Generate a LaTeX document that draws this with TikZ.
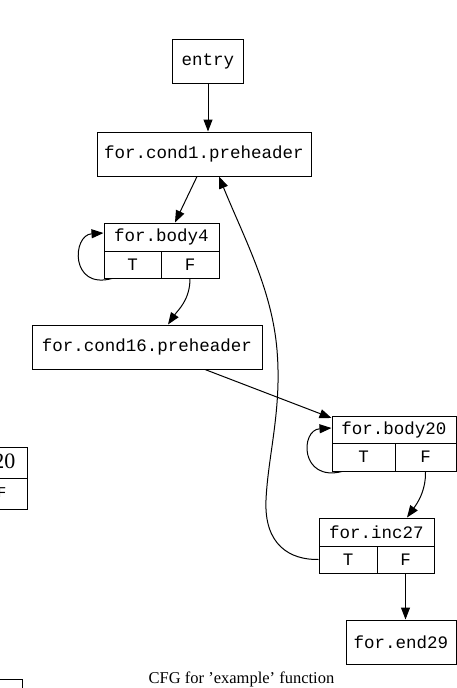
\documentclass[tikz,border=0pt]{standalone}
\usepackage{fontspec}
\usetikzlibrary{arrows.meta}
\newfontfamily\cfgmono{Liberation Mono}
\newfontfamily\cfgserif{Liberation Serif}
\tikzset{
  blk/.style={draw, line width=1pt, inner sep=0pt, rectangle,
              font=\cfgmono\fontsize{17.5}{20}\selectfont},
  edge/.style={line width=1pt, -{Triangle[length=12pt,width=9pt]}},
  frag/.style={draw, line width=1pt},
}
\begin{document}
\begin{tikzpicture}[x=1pt,y=-1pt]
\useasboundingbox (0,0) rectangle (457,688);
\clip (0,0) rectangle (457,688);
\fill[white] (0,0) rectangle (457,688);

% plain blocks
\node[blk, minimum width=71pt, minimum height=44pt] (entry) at (208,61) {entry};
\node[blk, minimum width=214pt, minimum height=44pt] (cond1) at (204,154) {for.cond1.preheader};
\node[blk, minimum width=230pt, minimum height=44pt] (cond16) at (147,347) {for.cond16.preheader};
\node[blk, minimum width=110pt, minimum height=44pt] (end29) at (401,642) {for.end29};

% record blocks: header plus T / F ports
\node[blk, minimum width=115pt, minimum height=28pt] (b4) at (161.5,237) {for.body4};
\node[blk, minimum width=57pt, minimum height=27pt] (b4T) at (132.5,264.5) {T};
\node[blk, minimum width=58pt, minimum height=27pt] (b4F) at (190,264.5) {F};

\node[blk, minimum width=124pt, minimum height=27pt] (b20) at (394,429.5) {for.body20};
\node[blk, minimum width=63pt, minimum height=28pt] (b20T) at (363.5,457) {T};
\node[blk, minimum width=61pt, minimum height=28pt] (b20F) at (425.5,457) {F};

\node[blk, minimum width=115pt, minimum height=28pt] (i27) at (376.5,532) {for.inc27};
\node[blk, minimum width=58pt, minimum height=27pt] (i27T) at (348,559.5) {T};
\node[blk, minimum width=57pt, minimum height=27pt] (i27F) at (405.5,559.5) {F};

% edges
\draw[edge] (entry.south) -- (entry.south |- cond1.north);
\draw[edge] ([xshift=-7pt]cond1.south) -- ([xshift=13.5pt]b4.north);
\draw[edge] ([xshift=-20.5pt]b4T.south) .. controls (70,290) and (72,235) .. ([yshift=4pt]b4.west);
\draw[edge] (b4F.south) .. controls (190,300) and (178,310) .. ([xshift=21pt]cond16.north);
\draw[edge] ([xshift=58pt]cond16.south) -- ([yshift=11.5pt]b20.west);
\draw[edge] ([xshift=-21.5pt]b20T.south) .. controls (300,482) and (300,430) .. ([yshift=1.5pt]b20.west);
\draw[edge] (b20F.south) .. controls (426,492) and (416,505) .. ([xshift=30.5pt]i27.north);
\draw[edge] (i27F.south) -- (i27F.south |- end29.north);
\draw[edge] (i27T.west) .. controls (290,560) and (264,545) .. (266,500)
  .. controls (268,455) and (282,410) .. (277,350)
  .. controls (272,290) and (245,240) .. ([xshift=15pt]cond1.south);

% caption
\node[anchor=base, font=\cfgserif\fontsize{16.5}{19}\selectfont, inner sep=0pt] (caption) at (241.5,683) {CFG for ’example’ function};

% cut-off pieces at the left edge
\draw[frag] (-100,447) rectangle (27,509);
\draw[frag] (-100,478) -- (27,478);
\node[anchor=base east, font=\cfgserif\fontsize{22}{24}\selectfont, inner sep=0pt] (frag20) at (15.5,468) {20};
\node[font=\cfgmono\fontsize{15}{17}\selectfont, inner sep=0pt] (fragF) at (2,493) {F};
\draw[frag] (-10,679) -- (22,679) -- (22,700);
\end{tikzpicture}
\end{document}
